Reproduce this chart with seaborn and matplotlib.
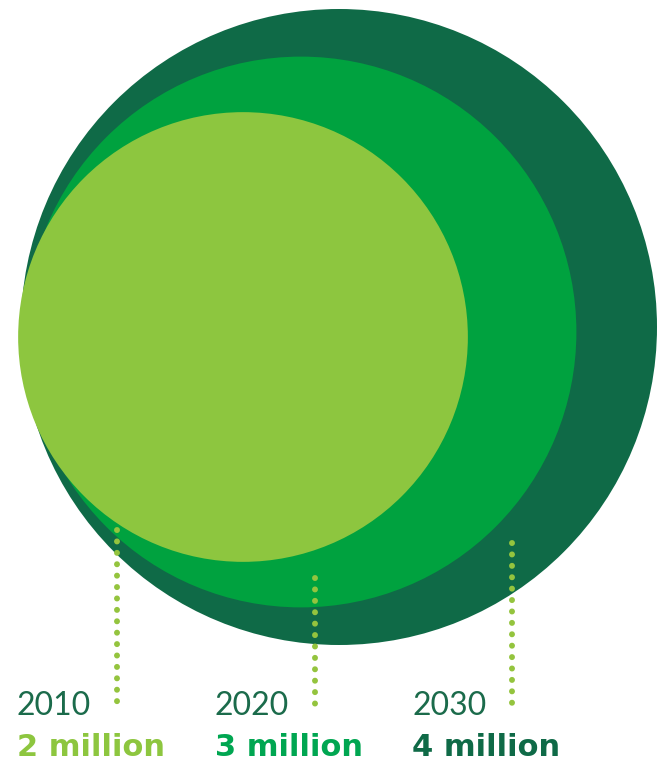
import matplotlib
matplotlib.use("Agg")
import matplotlib.pyplot as plt
from matplotlib.patches import Circle
import numpy as np
import seaborn as sns

# ---- data ----
years = ["2010", "2020", "2030"]
population_millions = [2, 3, 4]
value_labels = ["2 million", "3 million", "4 million"]

# ---- style ----
circle_colors = ["#8DC63F", "#00A23F", "#0F6A47"]
label_colors = ["#8DC63F", "#00A651", "#0F6A47"]
year_color = "#1B6B4B"
dot_color = "#94C43E"

sns.set_theme(style="white")
plt.rcParams["font.family"] = ["DejaVu Sans"]

W, H = 659, 761
fig = plt.figure(figsize=(W / 100, H / 100), dpi=100)
ax = fig.add_axes([0, 0, 1, 1])
ax.set_xlim(0, W)
ax.set_ylim(H, 0)
ax.axis("off")

# layout (pixels)
scale = 159.0                       # radius per sqrt(million)
centers_x = [243, 301, 339]
centers_y = [337, 332, 327]
text_left = [17, 215, 412]
line_offset = 100
line_top = [530, 578, 543]
line_bottom = 711
year_baseline = 715
label_baseline = 756

# circles: biggest first
order = np.argsort(population_millions)[::-1]
for rank, i in enumerate(order):
    r = scale * np.sqrt(population_millions[i])
    ax.add_patch(Circle((centers_x[i], centers_y[i]), r,
                        facecolor=circle_colors[i], edgecolor="none", zorder=1 + rank))

# dotted leader lines
for i in range(len(years)):
    x = text_left[i] + line_offset
    ax.plot([x, x], [line_top[i], line_bottom], color=dot_color, lw=4.3,
            linestyle=(0, (0.01, 1.9)), dash_capstyle="round", solid_capstyle="round",
            zorder=10)

# labels
for i in range(len(years)):
    ax.text(text_left[i], year_baseline, years[i], color=year_color,
            fontsize=23, family=["Lato", "DejaVu Sans"], va="baseline", ha="left", zorder=11)
    ax.text(text_left[i], label_baseline, value_labels[i], color=label_colors[i],
            fontsize=22, fontweight="bold", family=["DejaVu Sans"], va="baseline",
            ha="left", zorder=11)

fig.savefig("out.png", dpi=100, facecolor="white")
